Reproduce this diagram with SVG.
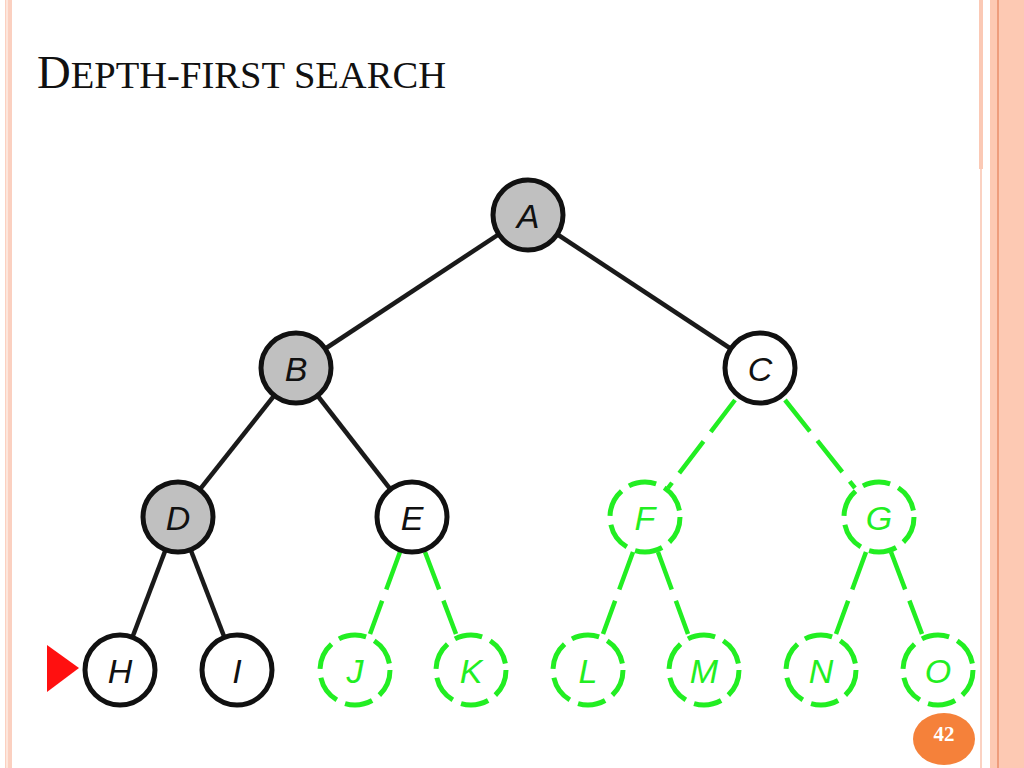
<svg xmlns="http://www.w3.org/2000/svg" width="1024" height="768" viewBox="0 0 1024 768">
<style>
.edge{stroke:#1a1a1a;stroke-width:4.5;fill:none}
.gedge{stroke:#22ee22;stroke-width:4.5;fill:none;stroke-dasharray:40 12}
.visited circle{fill:#c0c0c0;stroke:#111;stroke-width:5}
.open circle{fill:#fff;stroke:#111;stroke-width:5}
.unseen circle{fill:#fff;stroke:#22ee22;stroke-width:5;stroke-dasharray:28 9}
.lbl{font-family:"Liberation Sans",Arial,sans-serif;font-style:italic;font-size:34px;text-anchor:middle}
.visited text,.open text{fill:#111}
.unseen text{fill:#22ee22}
</style>
<rect width="1024" height="768" fill="#fff"/>
<g id="frame">
<rect x="5" y="0" width="7" height="768" fill="#fbd0c0"/>
<rect x="6" y="0" width="2" height="768" fill="#fde6dc"/>
<rect x="979" y="0" width="4" height="169" fill="#fbc9b5"/>
<rect x="980" y="169" width="2" height="599" fill="#fbd2c2"/>
<rect x="990" y="0" width="34" height="768" fill="#fdc9b3"/>
<rect x="997" y="0" width="2" height="768" fill="#ee9d7d"/>
</g>
<text id="title" x="37" y="88" font-family="'Liberation Serif','Times New Roman',serif" fill="#111" textLength="409" lengthAdjust="spacingAndGlyphs"><tspan font-size="46">D</tspan><tspan font-size="38">EPTH-FIRST SEARCH</tspan></text>
<g id="connectors">
<line class="edge" x1="528" y1="215" x2="296" y2="368"/>
<line class="edge" x1="528" y1="215" x2="760" y2="368"/>
<line class="edge" x1="296" y1="368" x2="178" y2="517"/>
<line class="edge" x1="296" y1="368" x2="412" y2="517"/>
<line class="edge" x1="178" y1="517" x2="120" y2="670"/>
<line class="edge" x1="178" y1="517" x2="237" y2="670"/>
<line class="gedge" x1="735" y1="400" x2="668" y2="488"/>
<line class="gedge" x1="785" y1="400" x2="855" y2="488"/>
<line class="gedge" x1="400" y1="552" x2="370" y2="634"/>
<line class="gedge" x1="425" y1="552" x2="456" y2="634"/>
<line class="gedge" x1="633" y1="552" x2="603" y2="634"/>
<line class="gedge" x1="658" y1="552" x2="688" y2="634"/>
<line class="gedge" x1="866" y1="552" x2="836" y2="634"/>
<line class="gedge" x1="891" y1="552" x2="922" y2="634"/>
</g>
<g id="A" class="visited"><circle cx="528" cy="215" r="35"/><text class="lbl" x="528" y="228">A</text></g>
<g id="B" class="visited"><circle cx="296" cy="368" r="35"/><text class="lbl" x="296" y="381">B</text></g>
<g id="C" class="open"><circle cx="760" cy="368" r="35"/><text class="lbl" x="760" y="381">C</text></g>
<g id="D" class="visited"><circle cx="178" cy="517" r="35"/><text class="lbl" x="178" y="530">D</text></g>
<g id="E" class="open"><circle cx="412" cy="517" r="35"/><text class="lbl" x="412" y="530">E</text></g>
<g id="F" class="unseen"><circle cx="645" cy="517" r="35"/><text class="lbl" x="645" y="530">F</text></g>
<g id="G" class="unseen"><circle cx="879" cy="517" r="35"/><text class="lbl" x="879" y="530">G</text></g>
<g id="H" class="open"><circle cx="120" cy="670" r="35"/><text class="lbl" x="120" y="683">H</text></g>
<g id="I" class="open"><circle cx="237" cy="670" r="35"/><text class="lbl" x="237" y="683">I</text></g>
<g id="J" class="unseen"><circle cx="355" cy="670" r="35"/><text class="lbl" x="355" y="683">J</text></g>
<g id="K" class="unseen"><circle cx="471" cy="670" r="35"/><text class="lbl" x="471" y="683">K</text></g>
<g id="L" class="unseen"><circle cx="588" cy="670" r="35"/><text class="lbl" x="588" y="683">L</text></g>
<g id="M" class="unseen"><circle cx="704" cy="670" r="35"/><text class="lbl" x="704" y="683">M</text></g>
<g id="N" class="unseen"><circle cx="821" cy="670" r="35"/><text class="lbl" x="821" y="683">N</text></g>
<g id="O" class="unseen"><circle cx="938" cy="670" r="35"/><text class="lbl" x="938" y="683">O</text></g>
<polygon id="pointer" points="47,645 79,668 47,692" fill="#ff1010"/>
<g id="page">
<ellipse cx="944" cy="739" rx="31" ry="26" fill="#f5813a"/>
<text x="944" y="741" font-family="'Liberation Serif','Times New Roman',serif" font-weight="bold" font-size="21" fill="#fff" text-anchor="middle">42</text>
</g>
</svg>
